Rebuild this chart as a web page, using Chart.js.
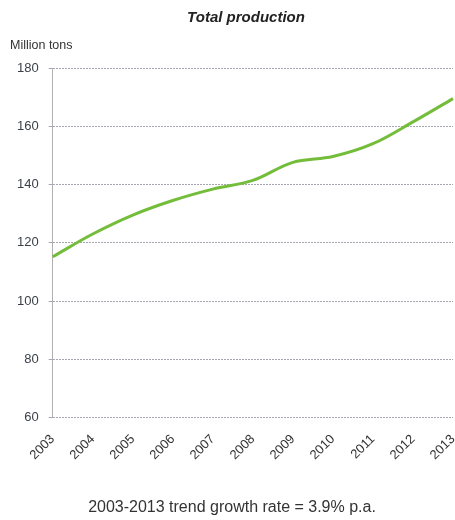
<!DOCTYPE html>
<html>
<head>
<meta charset="utf-8">
<script src="https://cdn.jsdelivr.net/npm/chart.js@4/dist/chart.umd.min.js"></script>
<style>
  html, body { margin: 0; padding: 0; background: #fff; }
  #wrap { width: 455px; height: 520px; position: relative; }
</style>
</head>
<body>
<div id="wrap"><canvas id="prodChart"></canvas></div>
<script>
const years = ["2003", "2004", "2005", "2006", "2007", "2008", "2009", "2010", "2011", "2012", "2013"];
const production = [115.2, 123, 129.5, 134.5, 138.4, 141.4, 147.6, 149.6, 154, 161.5, 169.5];
const yTicks = [60, 80, 100, 120, 140, 160, 180];

const chartTitle = "Total production";
const unitLabel = "Million tons";
const footNote = "2003-2013 trend growth rate = 3.9% p.a.";

// titles drawn by hand so they can sit where the original has them
const textPlugin = {
  id: "texts",
  afterDraw(chart) {
    const ctx = chart.ctx;
    ctx.save();
    ctx.fillStyle = "#222";
    ctx.textBaseline = "middle";
    ctx.textAlign = "center";
    ctx.font = "italic bold 15px Arial, 'Liberation Sans', sans-serif";
    ctx.fillText(chartTitle, 246, 18);

    ctx.fillStyle = "#333";
    ctx.textAlign = "left";
    ctx.font = "12.5px Arial, 'Liberation Sans', sans-serif";
    ctx.fillText(unitLabel, 10, 46);

    ctx.textAlign = "center";
    ctx.font = "16px Arial, 'Liberation Sans', sans-serif";
    ctx.fillText(footNote, 232, 508);
    ctx.restore();
  },
};

document.addEventListener("DOMContentLoaded", () => {
  const ctx = document.getElementById("prodChart").getContext("2d");

  // eslint-disable-next-line no-undef
  new Chart(ctx, {
    type: "line",
    data: {
      labels: years,
      datasets: [
        {
          label: chartTitle,
          data: production,
          borderColor: "#74bd3a",
          borderWidth: 3,
          tension: 0.35,
          pointRadius: 0,
          fill: false,
        },
      ],
    },
    options: {
      responsive: true,
      maintainAspectRatio: false,
      animation: false,
      layout: { padding: { top: 68, left: 7, right: 2, bottom: 51 } },
      plugins: {
        legend: { display: false },
        title: { display: false },
        tooltip: { enabled: false },
      },
      scales: {
        x: {
          offset: false,
          grid: { display: false },
          border: { display: false },
          // the original lets the last year run off the edge
          afterFit: (axis) => {
            axis.paddingRight = 0;
          },
          ticks: {
            autoSkip: false,
            minRotation: 45,
            maxRotation: 45,
            padding: 6,
            color: "#333",
            font: { family: "Arial, 'Liberation Sans', sans-serif", size: 13 },
          },
        },
        y: {
          min: yTicks[0],
          max: yTicks[yTicks.length - 1],
          afterBuildTicks: (axis) => {
            axis.ticks = yTicks.map((v) => ({ value: v }));
          },
          grid: {
            color: "#a6a6b0",
            lineWidth: 1,
            tickLength: 4,
          },
          border: { display: true, color: "#b0b0b0", dash: [2, 1] },
          ticks: {
            padding: 10,
            color: "#3a3f48",
            font: { family: "Arial, 'Liberation Sans', sans-serif", size: 13 },
          },
        },
      },
    },
    plugins: [textPlugin],
  });
});
</script>
</body>
</html>
